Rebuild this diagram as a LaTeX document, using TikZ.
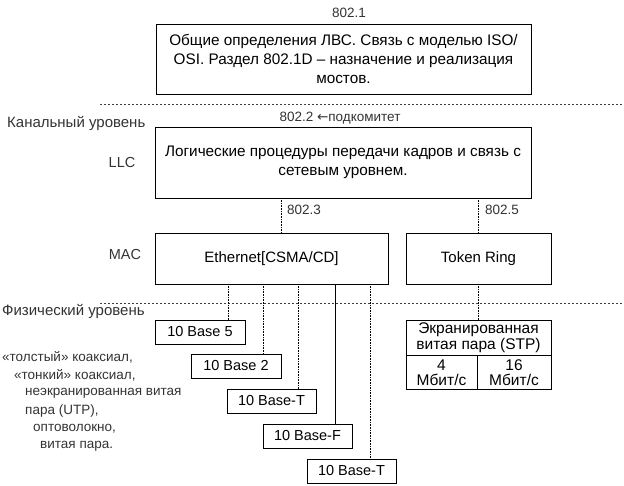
\documentclass[tikz,border=0pt]{standalone}
\usepackage{fontspec}
\setmainfont{Liberation Sans}
\newfontfamily\arrowfont{DejaVu Sans}

\tikzset{
  box/.style={draw, line width=0.6pt, inner sep=0pt, align=center,
    font=\fontsize{14.5}{18}\selectfont},
  bigbox/.style={box, font=\fontsize{15.3}{19}\selectfont},
  cell/.style={box, font=\fontsize{15.5}{15.5}\selectfont},
  lbl/.style={text=black!80, inner sep=0pt, font=\fontsize{13.5}{16}\selectfont},
  lvl/.style={lbl, anchor=west, font=\fontsize{15}{16}\selectfont},
  link/.style={line width=0.6pt, densely dotted},
  level/.style={line width=0.6pt, black!75, dash pattern=on 1.5pt off 2.5pt},
}

\begin{document}
\begin{tikzpicture}[x=1pt, y=-1pt]
    \useasboundingbox (0,0) rectangle (624,486);

    % 802.1 - general part
    \node[lbl] (n8021) at (349,13) {802.1};
    \node[bigbox, minimum width=375pt, minimum height=70pt] (gen) at (343.5,59)
        {Общие определения ЛВС. Связь с моделью ISO/\\OSI. Раздел 802.1D -- назначение и реализация\\мостов.};

    % Level separators
    \coordinate (sepA) at (100,104);
    \coordinate (sepB) at (624,104);
    \coordinate (sepC) at (100,303);
    \coordinate (sepD) at (624,303);
    \draw[level] (sepA) -- (sepB);
    \draw[level] (sepC) -- (sepD);

    % Data link level
    \node[lvl] (kanal) at (7,123) {Канальный уровень};
    \node[lbl] (n8022) at (340,118) {802.2 {\arrowfont ←}подкомитет};
    \node[lbl, font=\fontsize{14.5}{16}\selectfont] (llctag) at (122,163) {LLC};
    \node[bigbox, minimum width=376pt, minimum height=71pt] (llc) at (343,162.5)
        {Логические процедуры передачи кадров и связь с\\сетевым уровнем.};

    % MAC sublayer
    \node[lbl, font=\fontsize{14.5}{16}\selectfont] (mactag) at (125,255) {MAC};
    \node[box, minimum width=233pt, minimum height=51pt, font=\fontsize{15}{18}\selectfont] (eth) at (271.5,258.5) {Ethernet[CSMA/CD]};
    \node[box, minimum width=145pt, minimum height=51pt, font=\fontsize{15}{18}\selectfont] (tr) at (478.5,258.5) {Token Ring};

    \draw[link] (llc.south -| 281,0) -- (eth.north -| 281,0);
    \node[lbl, anchor=west] (n8023) at (287,210) {802.3};
    \draw[link] (llc.south -| tr.north) -- (tr.north);
    \node[lbl, anchor=west] (n8025) at (485,210) {802.5};

    % Physical level
    \node[lvl] (fiz) at (2,311) {Физический уровень};

    \node[box, minimum width=90pt, minimum height=24pt] (b5) at (200,332) {10 Base 5};
    \node[box, minimum width=90pt, minimum height=24pt] (b2) at (236,366) {10 Base 2};
    \node[box, minimum width=89pt, minimum height=24pt] (bt) at (271.5,401) {10 Base-T};
    \node[box, minimum width=89pt, minimum height=24pt] (bf) at (307.5,436) {10 Base-F};
    \node[box, minimum width=89pt, minimum height=24pt] (bt2) at (351.5,471) {10 Base-T};

    \draw[link] (eth.south -| 228,0) -- (b5.north -| 228,0);
    \draw[link] (eth.south -| 263,0) -- (b2.north -| 263,0);
    \draw[link] (eth.south -| 298,0) -- (bt.north -| 298,0);
    \draw[line width=0.6pt] (eth.south -| 335,0) -- (bf.north -| 335,0);
    \draw[link] (eth.south -| 370,0) -- (bt2.north -| 370,0);

    % Media
    \node[lbl, anchor=west] (m1) at (2,357) {«толстый» коаксиал,};
    \node[lbl, anchor=west] (m2) at (14,375) {«тонкий» коаксиал,};
    \node[lbl, anchor=west] (m3) at (25,393) {неэкранированная витая};
    \node[lbl, anchor=west] (m4) at (25,411) {пара (UTP),};
    \node[lbl, anchor=west] (m5) at (33,429) {оптоволокно,};
    \node[lbl, anchor=west] (m6) at (40,446) {витая пара.};

    % STP table
    \node[cell, minimum width=145pt, minimum height=35pt] (stp) at (478.5,337.5)
        {Экранированная\\витая пара (STP)};
    \node[cell, minimum width=71pt, minimum height=34pt, anchor=north west] (s4) at (stp.south west)
        {4\\Мбит/с};
    \node[cell, minimum width=74pt, minimum height=34pt, anchor=north east] (s16) at (stp.south east)
        {16\\Мбит/с};
    \draw[link] (tr.south) -- (stp.north);
\end{tikzpicture}
\end{document}
